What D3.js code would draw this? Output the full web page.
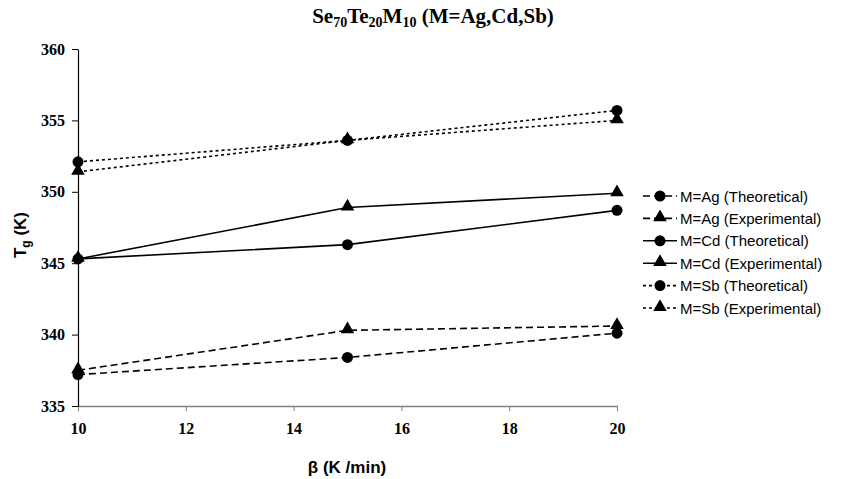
<!DOCTYPE html>
<html>
<head>
<meta charset="utf-8">
<script src="https://cdn.jsdelivr.net/npm/d3@7"></script>
<style>
  body { margin: 0; background: #fff; }
</style>
</head>
<body>
<div id="chart"></div>
<script>
// heating rates and glass transition temperatures
var rates = [10, 15, 20];
var agTheo = [337.2, 338.4, 340.1];
var agExp  = [337.5, 340.3, 340.6];
var cdTheo = [345.3, 346.3, 348.7];
var cdExp  = [345.3, 348.9, 349.9];
var sbTheo = [352.1, 353.6, 355.7];
var sbExp  = [351.4, 353.6, 355.0];
var xTicks = [10, 12, 14, 16, 18, 20];
var yTicks = [335, 340, 345, 350, 355, 360];

var seriesList = [
  {name: "M=Ag (Theoretical)",  values: agTheo, dash: "7,4", sym: "circle"},
  {name: "M=Ag (Experimental)", values: agExp,  dash: "7,4", sym: "triangle"},
  {name: "M=Cd (Theoretical)",  values: cdTheo, dash: null,  sym: "circle"},
  {name: "M=Cd (Experimental)", values: cdExp,  dash: null,  sym: "triangle"},
  {name: "M=Sb (Theoretical)",  values: sbTheo, dash: "3,3", sym: "circle"},
  {name: "M=Sb (Experimental)", values: sbExp,  dash: "3,3", sym: "triangle"}
];

var serif = "'Liberation Serif', 'Times New Roman', serif";
var sans = "'Liberation Sans', Arial, sans-serif";

var width = 847, height = 479,
    margin = {top: 49, right: 230, bottom: 73, left: 78};

var svg = d3.select("#chart").append("svg")
  .attr("width", width).attr("height", height);

var g = svg.append("g")
  .attr("transform", `translate(${margin.left},${margin.top})`);

var iw = width - margin.left - margin.right,
    ih = height - margin.top - margin.bottom;

var x = d3.scaleLinear().domain([10, 20]).range([0, iw]);
var y = d3.scaleLinear().domain([335, 360]).range([ih, 0]);

// x axis (grey)
var xAxis = g.append("g")
  .attr("transform", `translate(0,${ih})`)
  .call(d3.axisBottom(x).tickValues(xTicks).tickSize(5).tickSizeOuter(0).tickPadding(12));
xAxis.select(".domain").attr("stroke", "#808080").attr("stroke-width", 1.5);
xAxis.selectAll(".tick line").attr("stroke", "#808080");

// y axis
var yAxis = g.append("g")
  .call(d3.axisLeft(y).tickValues(yTicks).tickSize(6).tickSizeOuter(0).tickPadding(7));
yAxis.select(".domain").attr("stroke", "#000").attr("stroke-width", 1.2);
yAxis.selectAll(".tick line").attr("stroke", "#000");

g.selectAll(".tick text")
  .style("font-family", serif)
  .style("font-weight", "bold")
  .style("font-size", "16px")
  .attr("fill", "#000");

var line = d3.line().x((d, i) => x(rates[i])).y(d => y(d));
var circ = d3.symbol().type(d3.symbolCircle).size(95);
var tri = d3.symbol().type(d3.symbolTriangle).size(80);

seriesList.forEach(s => {
  g.append("path")
    .attr("d", line(s.values))
    .attr("fill", "none")
    .attr("stroke", "#000")
    .attr("stroke-width", 1.6)
    .attr("stroke-dasharray", s.dash);
  g.selectAll(null).data(s.values).enter().append("path")
    .attr("d", s.sym == "circle" ? circ : tri)
    .attr("transform", (d, i) => `translate(${x(rates[i])},${y(d) + (s.sym == "circle" ? 0 : -1)})`)
    .attr("fill", "#000");
});

// legend
var leg = svg.append("g").attr("transform", "translate(643,196)");
seriesList.forEach((s, i) => {
  var row = leg.append("g").attr("transform", `translate(0,${i * 22.4})`);
  row.append("line")
    .attr("x1", 0).attr("x2", 34).attr("y1", 0).attr("y2", 0)
    .attr("stroke", "#000").attr("stroke-width", 1.6)
    .attr("stroke-dasharray", s.dash);
  row.append("path")
    .attr("d", s.sym == "circle" ? circ : tri)
    .attr("transform", `translate(17,${s.sym == "circle" ? 0 : -1})`)
    .attr("fill", "#000");
  row.append("text")
    .attr("x", 37).attr("y", 5.5)
    .style("font-family", sans)
    .style("font-size", "15px")
    .text(s.name);
});

// title
var title = svg.append("text")
  .attr("x", 433).attr("y", 23)
  .attr("text-anchor", "middle")
  .style("font-family", serif)
  .style("font-weight", "bold")
  .style("font-size", "21px");
title.append("tspan").text("Se");
title.append("tspan").attr("dy", 4).style("font-size", "14px").text("70");
title.append("tspan").attr("dy", -4).text("Te");
title.append("tspan").attr("dy", 4).style("font-size", "14px").text("20");
title.append("tspan").attr("dy", -4).text("M");
title.append("tspan").attr("dy", 4).style("font-size", "14px").text("10");
title.append("tspan").attr("dy", -4).text(" (M=Ag,Cd,Sb)");

// axis titles
var yt = svg.append("text")
  .attr("transform", "translate(26,235) rotate(-90)")
  .attr("text-anchor", "middle")
  .style("font-family", sans)
  .style("font-weight", "bold")
  .style("font-size", "17px");
yt.append("tspan").text("T");
yt.append("tspan").attr("dy", 4).style("font-size", "12px").text("g");
yt.append("tspan").attr("dy", -4).text(" (K)");

svg.append("text")
  .attr("x", 347).attr("y", 473)
  .attr("text-anchor", "middle")
  .style("font-family", sans)
  .style("font-weight", "bold")
  .style("font-size", "17px")
  .text("β (K /min)");
</script>
</body>
</html>
